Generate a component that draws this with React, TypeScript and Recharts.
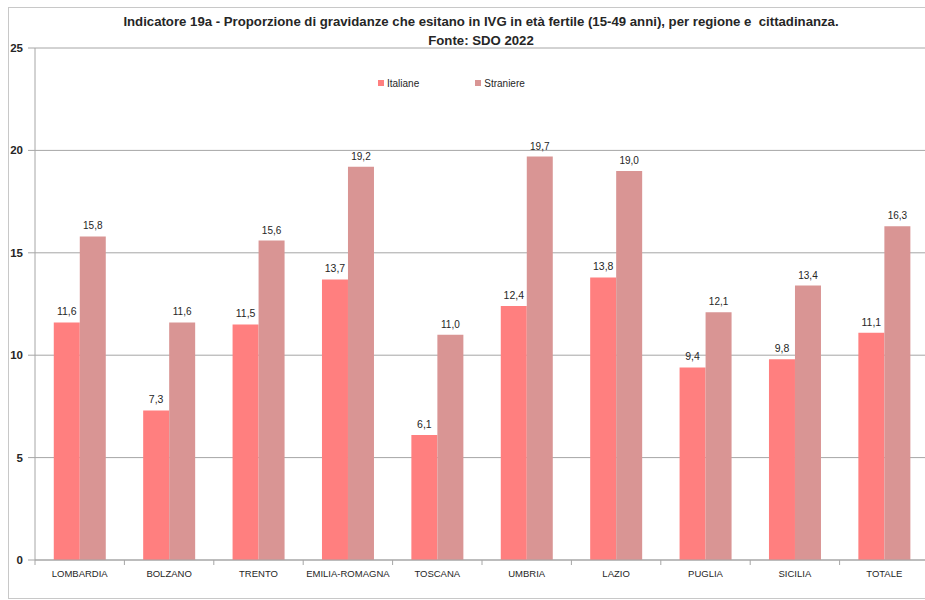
import React from 'react';
import { BarChart, Bar, XAxis, YAxis, CartesianGrid, LabelList } from 'recharts';

const REGIONI = ['LOMBARDIA', 'BOLZANO', 'TRENTO', 'EMILIA-ROMAGNA', 'TOSCANA', 'UMBRIA', 'LAZIO', 'PUGLIA', 'SICILIA', 'TOTALE'];
const ITALIANE = [11.6, 7.3, 11.5, 13.7, 6.1, 12.4, 13.8, 9.4, 9.8, 11.1];
const STRANIERE = [15.8, 11.6, 15.6, 19.2, 11.0, 19.7, 19.0, 12.1, 13.4, 16.3];
const Y_TICKS = [0, 5, 10, 15, 20, 25];

const ROSA = '#FF7F7F';
const ROSA_SCURO = '#D99594';
const GRID = '#A6A6A6';
const TESTO = '#262626';
const FONT = '"Liberation Sans Narrow", "Liberation Sans", Arial, sans-serif';

const data = REGIONI.map((r, i) => ({ regione: r, italiane: ITALIANE[i], straniere: STRANIERE[i] }));

const fmt = (v: number) => v.toFixed(1).replace('.', ',');

const CHART_W = 932;
const LEFT = 35;
const RIGHT = 3;
const BAND = (CHART_W - LEFT - RIGHT) / REGIONI.length;

// category label + boundary tick mark (Excel style)
function RegioneTick(props: any) {
  const { x, y, payload } = props;
  return (
    <g>
      <line x1={x - BAND / 2} x2={x - BAND / 2} y1={y - 8} y2={y - 3} stroke={GRID} />
      <text x={x} y={y + 9} textAnchor="middle" fontSize={9.5} fill={TESTO} fontFamily={FONT}>
        {payload.value}
      </text>
    </g>
  );
}

function Legenda() {
  const item = (c: string, t: string) => (
    <span style={{ display: 'inline-flex', alignItems: 'center', marginRight: 56 }}>
      <span style={{ width: 6, height: 6, background: c, marginRight: 3 }} />
      <span style={{ fontSize: 10, color: TESTO }}>{t}</span>
    </span>
  );
  return (
    <div style={{ position: 'absolute', top: 72, left: 378, fontFamily: FONT, whiteSpace: 'nowrap' }}>
      {item(ROSA, 'Italiane')}
      {item(ROSA_SCURO, 'Straniere')}
    </div>
  );
}

export default function App() {
  return (
    <div style={{ position: 'absolute', left: 0, top: 0, width: 925, height: 600, overflow: 'hidden', background: '#fff', fontFamily: FONT }}>
      <div style={{ position: 'absolute', left: 8, top: 7, width: 940, height: 590, border: '1px solid #C8C8C8' }} />
      <div style={{ position: 'absolute', left: 0, top: 12, width: 962, textAlign: 'center', fontWeight: 700, fontSize: 13.2, color: TESTO, lineHeight: '19px', whiteSpace: 'pre' }}>
        {'Indicatore 19a - Proporzione di gravidanze che esitano in IVG in età fertile (15-49 anni), per regione e  cittadinanza.\nFonte: SDO 2022'}
      </div>
      <div style={{ position: 'absolute', left: 0, top: 0 }}>
        <BarChart width={CHART_W} height={600} data={data} margin={{ top: 48, right: RIGHT, bottom: 10, left: 0 }} barGap={0} barCategoryGap="21%">
          <CartesianGrid horizontal vertical={false} stroke={GRID} />
          <XAxis dataKey="regione" height={30} axisLine={{ stroke: GRID }} tickLine={false} tick={<RegioneTick />} interval={0} />
          <YAxis
            width={LEFT}
            domain={[0, 25]}
            ticks={Y_TICKS}
            axisLine={{ stroke: GRID }}
            tickLine={{ stroke: GRID }}
            tickSize={7}
            tickMargin={5}
            tick={{ fontSize: 11.5, fill: TESTO, fontFamily: FONT, fontWeight: 700 }}
          />
          <Bar dataKey="italiane" fill={ROSA} isAnimationActive={false}>
            <LabelList dataKey="italiane" position="top" offset={7} formatter={fmt as any} style={{ fontSize: 10.5, fill: TESTO, fontFamily: FONT }} />
          </Bar>
          <Bar dataKey="straniere" fill={ROSA_SCURO} isAnimationActive={false}>
            <LabelList dataKey="straniere" position="top" offset={7} formatter={fmt as any} style={{ fontSize: 10, fill: TESTO, fontFamily: FONT }} />
          </Bar>
        </BarChart>
      </div>
      <Legenda />
    </div>
  );
}
